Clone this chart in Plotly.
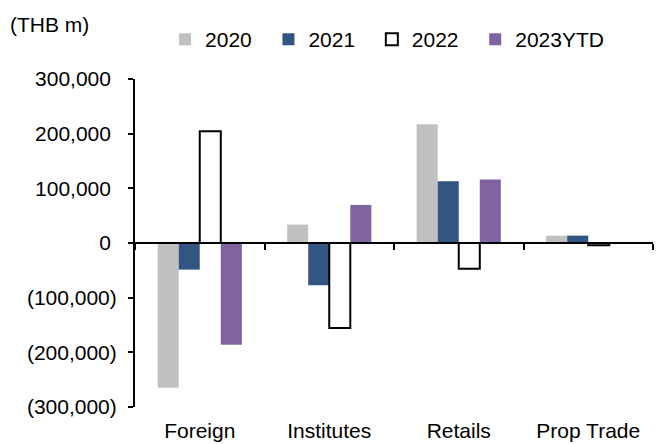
import plotly.graph_objects as go

# Net trading flows by investor type (THB m)
categories = ["Foreign", "Institutes", "Retails", "Prop Trade"]
series_names = ["2020", "2021", "2022", "2023YTD"]
v2020 = [-265000, 33700, 217400, 13500]
v2021 = [-48700, -77500, 113000, 13500]
v2022 = [204600, -155700, -46900, -4000]
v2023 = [-186000, 69600, 116100, 0]

NB = "\u00a0"
tick_vals = [300000, 200000, 100000, 0, -100000, -200000, -300000]
tick_text = ["300,000" + NB, "200,000" + NB, "100,000" + NB, "0" + NB,
             "(100,000)", "(200,000)", "(300,000)"]

FONT = "Liberation Sans, Arial, sans-serif"
FS = 21

styles = [
    dict(color="#C0C0C0", line=dict(color="#C0C0C0", width=0)),
    dict(color="#335581", line=dict(color="#335581", width=0)),
    dict(color="#FFFFFF", line=dict(color="#000000", width=2)),
    dict(color="#8064A2", line=dict(color="#8064A2", width=0)),
]

fig = go.Figure()
for name, vals, st in zip(series_names, [v2020, v2021, v2022, v2023], styles):
    # trailing non-breaking spaces widen the spacing between legend entries
    fig.add_trace(go.Bar(x=categories, y=vals, name=name + NB * 2, marker=st))

# invisible trace so the zero-line category axis is rendered
fig.add_trace(go.Scatter(x=categories, y=[0] * 4, xaxis="x2", mode="markers",
                         marker=dict(opacity=0), showlegend=False, hoverinfo="skip"))

fig.update_layout(
    width=656, height=444,
    margin=dict(l=135, r=3, t=79, b=37),
    paper_bgcolor="white", plot_bgcolor="white",
    barmode="group", bargap=0.35, bargroupgap=0,
    font=dict(family=FONT, size=FS, color="#000000"),
    showlegend=True,
    legend=dict(orientation="h", x=0.058, xanchor="left", y=1.12, yanchor="middle",
                font=dict(size=FS), itemwidth=30, bgcolor="rgba(0,0,0,0)",
                traceorder="normal", tracegroupgap=0),
    xaxis=dict(type="category", categoryarray=categories, range=[-0.5, 3.5],
               showline=False, ticks="outside", ticklen=5, tickcolor="rgba(0,0,0,0)",
               showgrid=False, zeroline=False, tickfont=dict(size=FS), automargin=False),
    xaxis2=dict(type="category", categoryarray=categories, range=[-0.5, 3.5],
                overlaying="x", anchor="free", position=0.5,
                showline=True, linecolor="#000000", linewidth=2,
                ticks="outside", tickson="boundaries", ticklen=6, tickwidth=2,
                tickcolor="#000000", showticklabels=False, showgrid=False, zeroline=False,
                automargin=False),
    yaxis=dict(range=[-300000, 300000], tickvals=tick_vals, ticktext=tick_text,
               showline=True, linecolor="#000000", linewidth=2,
               ticks="outside", ticklen=5, tickwidth=2, tickcolor="#000000",
               ticklabelstandoff=7, automargin=False,
               showgrid=False, zeroline=False, tickfont=dict(size=FS)),
    annotations=[dict(text="(THB m)", xref="paper", yref="paper", x=-0.245, y=1.165,
                      xanchor="left", yanchor="middle", showarrow=False,
                      font=dict(size=FS))],
)

fig.write_html("out.html")
